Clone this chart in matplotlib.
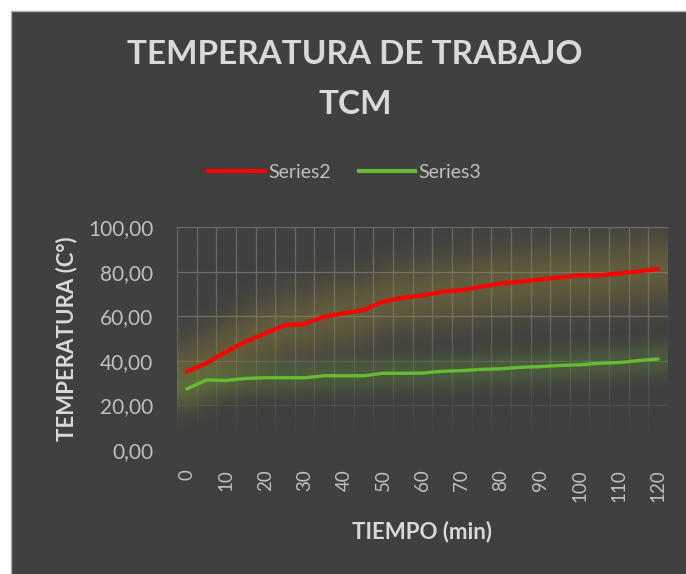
import numpy as np
import matplotlib
matplotlib.use("Agg")
import matplotlib.pyplot as plt
from matplotlib.collections import LineCollection
from matplotlib.patches import Rectangle
from matplotlib.lines import Line2D

# ---- data ----
minutes = [0, 5, 10, 15, 20, 25, 30, 35, 40, 45, 50, 55, 60, 65, 70, 75, 80, 85,
           90, 95, 100, 105, 110, 115, 120]
series2 = [35.1, 38.9, 44.0, 48.6, 52.3, 56.0, 56.5, 59.8, 61.3, 62.8, 66.5, 68.3,
           69.2, 71.0, 71.7, 73.2, 74.7, 75.5, 76.5, 77.4, 78.3, 78.3, 79.2, 80.1, 81.2]
series3 = [27.4, 31.4, 31.2, 32.1, 32.4, 32.4, 32.4, 33.3, 33.3, 33.3, 34.4, 34.4,
           34.5, 35.3, 35.6, 36.2, 36.4, 37.1, 37.4, 37.9, 38.2, 38.9, 39.2, 40.1, 40.8]
tick_labels = ['0', '10', '20', '30', '40', '50', '60', '70', '80', '90', '100', '110', '120']
y_ticks = [0, 20, 40, 60, 80, 100]

BG = '#404040'
TXT = '#d9d9d9'
TICK = '#bfbfbf'
GRID = '#6c6c6c'
FONT = ['Lato', 'DejaVu Sans']

fig = plt.figure(figsize=(6.86, 5.74), dpi=100, facecolor='white')
fig.patches.append(Rectangle((11 / 686, -0.01), 1.0, 1 - 11 / 574 + 0.01,
                             transform=fig.transFigure, facecolor=BG,
                             edgecolor='#b0b0b0', linewidth=1.0, zorder=-10))

ax = fig.add_axes([177 / 686, 1 - 450 / 574, (668 - 177) / 686, (450 - 227) / 574])
ax.set_zorder(2)
ax.set_facecolor('none')
x = np.arange(len(minutes))
xmin, xmax = -0.5, len(minutes) - 0.5
ax.set_xlim(xmin, xmax)
ax.set_ylim(0, 100)


def fade(y):
    return float(np.clip((y - 5) / 55.0, 0, 1))


# gridlines (category boundaries), fading towards the bottom
ys = np.linspace(0, 100, 101)
segs, cols = [], []
base = matplotlib.colors.to_rgb(GRID)
for b in np.arange(xmin, len(minutes), 1.0):
    for y0, y1 in zip(ys[:-1], ys[1:]):
        segs.append([(b, y0), (b, y1)])
        cols.append((*base, fade((y0 + y1) / 2)))
for yt in y_ticks:
    segs.append([(xmin, yt), (xmax, yt)])
    cols.append((*base, fade(yt)))
ax.add_collection(LineCollection(segs, colors=cols, linewidths=0.9, zorder=1))

# soft glow around each series
gx = np.linspace(xmin, xmax, 400)
gy = np.linspace(0, 100, 300)
GX, GY = np.meshgrid(gx, gy)


def glow(yv, color, sigma, amax, z):
    yl = np.interp(gx, x, yv)
    inten = np.exp(-0.5 * ((GY - yl[None, :]) / sigma) ** 2)
    rgba = np.zeros(GX.shape + (4,))
    rgba[..., :3] = matplotlib.colors.to_rgb(color)
    rgba[..., 3] = amax * inten
    ax.imshow(rgba, extent=(xmin, xmax, 0, 100), origin='lower', aspect='auto',
              interpolation='bilinear', zorder=z)


glow(series2, '#9a8c38', 11, 0.38, 1.5)
glow(series3, '#6aa036', 5.5, 0.28, 1.6)

ax.plot(x, series2, color='#ff0000', lw=3.0, solid_capstyle='round', zorder=4)
ax.plot(x, series3, color='#66bb33', lw=2.4, solid_capstyle='round', zorder=4)

ax.set_xticks(x[::2])
ax.set_xticklabels(tick_labels, rotation=90, fontsize=13.5, color=TICK, family=FONT)
ax.set_yticks(y_ticks)
ax.set_yticklabels([f"{v:.2f}".replace('.', ',') for v in y_ticks], fontsize=15,
                   color=TICK, family=FONT)
ax.tick_params(axis='x', length=0, pad=14)
ax.tick_params(axis='y', length=0, pad=17)
for s in ax.spines.values():
    s.set_visible(False)

ax.set_xlabel('TIEMPO (min)', fontsize=16, color=TXT, fontweight='bold', family=FONT,
              labelpad=13)
ax.set_ylabel('TEMPERATURA (C°)', fontsize=16, color=TXT, fontweight='bold', family=FONT,
              labelpad=8)

fig.text(355 / 686, 1 - 55 / 574, 'TEMPERATURA DE TRABAJO', ha='center', va='center',
         fontsize=24, fontweight='bold', color=TXT, family=FONT)
fig.text(355 / 686, 1 - 104 / 574, 'TCM', ha='center', va='center',
         fontsize=24, fontweight='bold', color=TXT, family=FONT)

handles = [Line2D([], [], color='#ff0000', lw=3), Line2D([], [], color='#66bb33', lw=3)]
fig.legend(handles, ['Series2', 'Series3'], loc='center', bbox_to_anchor=(345 / 686, 1 - 172 / 574),
           ncol=2, frameon=False, handlelength=2.9, handletextpad=0.2, columnspacing=1.4,
           prop={'family': FONT, 'size': 14}, labelcolor=TICK)

fig.savefig('out.png', dpi=100, facecolor='white')
